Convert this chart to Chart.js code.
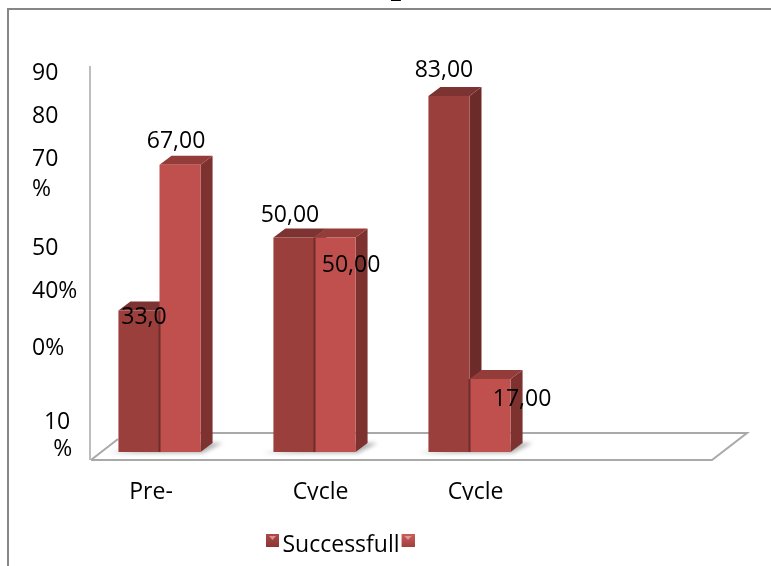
<!DOCTYPE html>
<html>
<head>
<meta charset="utf-8">
<script src="https://cdn.jsdelivr.net/npm/chart.js@4"></script>
<style>
  html, body { margin: 0; padding: 0; background: #fff; }
  canvas { display: block; }
</style>
</head>
<body>
<canvas id="chart" width="771" height="566"></canvas>
<script>
const categories = ['Pre-', 'Cycle', 'Cycle', ''];
const successfull = [33, 50, 83, null];
const second = [67, 50, 17, null];
const successfullLabels = ['33,0', '50,00', '83,00', ''];
const secondLabels = ['67,00', '50,00', '17,00', ''];

// the source picture has its axis text broken up, so each piece sits where it landed
const yTickLabels = ['90', '80', '70', '%', '50', '40%', '0%', '10', '%'];
const yTickValues = [88.3, 78.3, 68.1, 61.3, 47.4, 37.4, 24.2, 6.9, 0.7];

const FONT = '"Open Sans"';
const FONT_SIZE = 23;
const DEPTH_X = 12;
const DEPTH_Y = 9;

const yLabelPad = ['', '', '', '', '', '', '', '  ', '\u2002 \u2009'];
const xLabelPad = ['\u2002\u2002 ', '', '', ''];
const labelNudges = [
  [[5, 7], [-4, -22], [-5, -26]],
  [[-4, -23], [16, 28], [32, 20]]
];
const faces = [
  { top: '#7d3331', side: '#6c2b29' },
  { top: '#943c3a', side: '#7e3230' }
];

// extra transparent room on the canvas moves the square off the legend's anchor point
const swatch = (dark, light) => {
  const c = document.createElement('canvas');
  c.width = 17;
  c.height = 23;
  const g = c.getContext('2d');
  g.translate(4, 0);
  const grad = g.createLinearGradient(0, 0, 0, 13);
  grad.addColorStop(0, light);
  grad.addColorStop(1, dark);
  g.fillStyle = grad;
  g.fillRect(0, 0, 13, 13);
  g.fillStyle = 'rgba(255,210,210,0.55)';
  g.beginPath();
  g.moveTo(3, 2);
  g.lineTo(10, 2);
  g.lineTo(6.5, 6);
  g.fill();
  return c;
};
const swatches = [swatch('#8a3533', '#b04a47'), swatch('#a03f3c', '#c9605c')];

const poly = (ctx, pts, fill) => {
  ctx.fillStyle = fill;
  ctx.beginPath();
  pts.forEach((p, i) => (i ? ctx.lineTo(p[0], p[1]) : ctx.moveTo(p[0], p[1])));
  ctx.closePath();
  ctx.fill();
};

const frame3d = {
  id: 'frame3d',
  afterLayout(chart) {
    // legend sits left of centre in the source
    chart.legend.left -= 23;
    chart.legend.right -= 23;
    chart.legend.top += 2;
    chart.legend.bottom += 2;
  },
  beforeDatasetsDraw(chart) {
    const { ctx, chartArea, scales } = chart;
    const y0 = scales.y.getPixelForValue(0);
    const yTop = scales.y.getPixelForValue(90);
    const front = y0 + 8;
    const back = y0 - 19;

    ctx.save();
    ctx.fillStyle = '#868686';
    ctx.fillRect(7, 8, 764, 2);
    ctx.fillRect(7, 8, 2, 558);

    ctx.strokeStyle = '#bdbdbd';
    ctx.lineWidth = 2;
    ctx.beginPath();
    ctx.moveTo(chartArea.left + 8, yTop);
    ctx.lineTo(chartArea.left + 8, front);
    ctx.stroke();

    ctx.strokeStyle = '#a9a9a9';
    ctx.beginPath();
    ctx.moveTo(chartArea.left + 9, front);
    ctx.lineTo(chartArea.right + 10, front);
    ctx.lineTo(chartArea.right + 45, back);
    ctx.lineTo(chartArea.left + 44, back);
    ctx.moveTo(chartArea.left + 9, front);
    ctx.lineTo(chartArea.left + 36, y0 - 13);
    ctx.stroke();

    // soft floor shadow under each pair of bars
    const meta0 = chart.getDatasetMeta(0);
    const meta1 = chart.getDatasetMeta(1);
    ctx.filter = 'blur(2px)';
    meta0.data.forEach((bar, i) => {
      if (successfull[i] === null) return;
      const other = meta1.data[i];
      const l = bar.x - bar.width / 2;
      const r = other.x + other.width / 2;
      poly(ctx, [[l - 10, y0 + 1], [r + 2, y0 + 1], [r + 22, y0 - 9], [r, y0 - 9]], 'rgba(110,110,110,0.55)');
    });
    ctx.filter = 'none';

    [meta0, meta1].forEach((meta, ds) => {
      meta.data.forEach((bar, i) => {
        if (successfull[i] === null) return;
        const l = bar.x - bar.width / 2;
        const r = bar.x + bar.width / 2;
        poly(ctx, [[r, bar.y], [r + DEPTH_X, bar.y - DEPTH_Y], [r + DEPTH_X, y0 - DEPTH_Y], [r, y0]], faces[ds].side);
        poly(ctx, [[l, bar.y], [l + DEPTH_X, bar.y - DEPTH_Y], [r + DEPTH_X, bar.y - DEPTH_Y], [r, bar.y]], faces[ds].top);
      });
    });
    ctx.restore();
  },
  afterDatasetsDraw(chart) {
    const { ctx, scales } = chart;
    const texts = [successfullLabels, secondLabels];
    ctx.save();

    // dark seam where the two bars of a group touch
    const y0 = scales.y.getPixelForValue(0);
    ctx.fillStyle = '#6f2d2b';
    chart.getDatasetMeta(0).data.forEach((bar, i) => {
      if (successfull[i] === null) return;
      const other = chart.getDatasetMeta(1).data[i];
      const top = Math.max(bar.y, other.y);
      ctx.fillRect(bar.x + bar.width / 2 - 1, top, 2, y0 - top);
    });

    ctx.font = FONT_SIZE + 'px ' + FONT;
    ctx.fillStyle = '#000';
    ctx.textAlign = 'center';
    ctx.textBaseline = 'middle';
    [0, 1].forEach((ds) => {
      chart.getDatasetMeta(ds).data.forEach((bar, i) => {
        if (!texts[ds][i]) return;
        const n = labelNudges[ds][i];
        ctx.fillText(texts[ds][i], bar.x + n[0], bar.y + n[1]);
      });
    });
    ctx.restore();
  },
  afterDraw(chart) {
    const { ctx } = chart;
    ctx.save();
    // x labels are cut off just under the baseline in the source
    ctx.fillStyle = '#fff';
    ctx.fillRect(100, 500, 500, 26);
    // only the underscore of the title survives at the top edge
    ctx.font = 'bold 24px ' + FONT;
    ctx.fillStyle = '#000';
    ctx.textAlign = 'center';
    ctx.textBaseline = 'alphabetic';
    ctx.fillText('_', 396, -3);
    ctx.restore();
  }
};

new Chart(document.getElementById('chart'), {
  type: 'bar',
  plugins: [frame3d],
  data: {
    labels: categories,
    datasets: [
      { label: 'Successfull', data: successfull, backgroundColor: '#9b3f3c', borderWidth: 0 },
      { label: '', data: second, backgroundColor: '#c0504d', borderWidth: 0 }
    ]
  },
  options: {
    responsive: false,
    animation: false,
    layout: { padding: { left: 32, right: 69, top: 66, bottom: 1 } },
    datasets: { bar: { categoryPercentage: 0.53, barPercentage: 1 } },
    plugins: {
      tooltip: { enabled: false },
      title: { display: false },
      legend: {
        position: 'bottom',
        labels: {
          usePointStyle: true,
          boxWidth: 1,
          padding: 6,
          color: '#000',
          font: { family: FONT, size: FONT_SIZE },
          generateLabels: (chart) => chart.data.datasets.map((d, i) => ({
            text: d.label,
            pointStyle: swatches[i],
            datasetIndex: i,
            lineWidth: 0
          }))
        }
      }
    },
    scales: {
      x: {
        grid: { display: false, drawTicks: false },
        border: { display: false },
        ticks: {
          color: '#000',
          font: { family: FONT, size: FONT_SIZE },
          maxRotation: 0,
          autoSkip: false,
          padding: 27,
          labelOffset: 6,
          callback: (v, i) => categories[i] + xLabelPad[i]
        },
        afterFit: (axis) => { axis.height = 74; }
      },
      y: {
        min: 0,
        max: 90,
        grid: { display: false, drawTicks: false },
        border: { display: false },
        afterBuildTicks: (axis) => { axis.ticks = yTickValues.map((value) => ({ value })); },
        afterFit: (axis) => { axis.width = 50; },
        ticks: {
          color: '#000',
          font: { family: FONT, size: FONT_SIZE },
          autoSkip: false,
          crossAlign: 'far',
          padding: 0,
          callback: (v, i) => yLabelPad[i] + yTickLabels[i]
        }
      }
    }
  }
});
</script>
</body>
</html>
